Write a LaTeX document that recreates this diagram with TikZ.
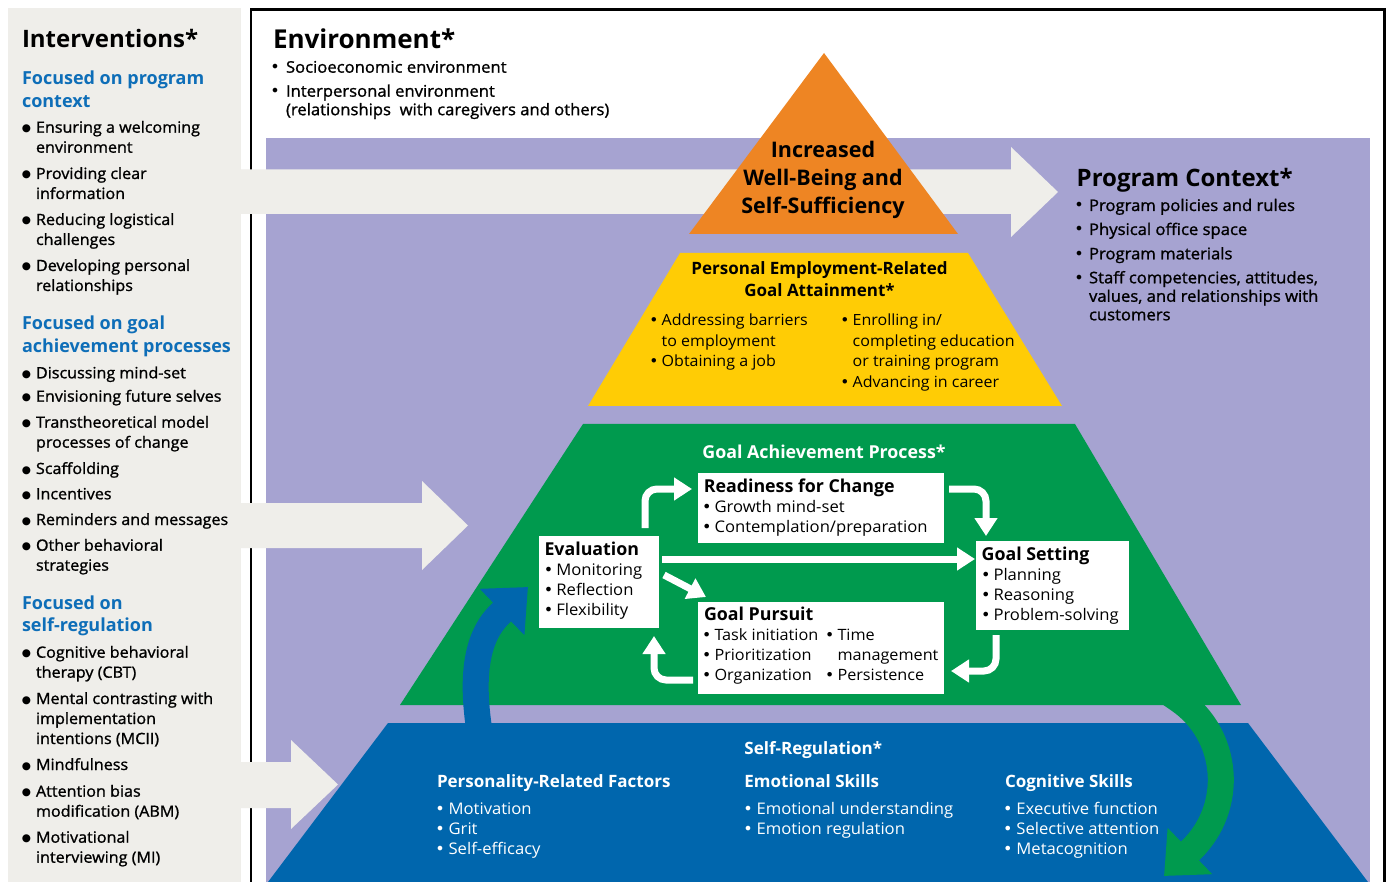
\documentclass[tikz,border=0pt]{standalone}
\usepackage{fontspec}
\setmainfont{Open Sans}
\newfontfamily\medfont[FakeBold=1.2,FakeStretch=1.04]{Open Sans}
\newfontfamily\regfont[FakeStretch=1.04]{Open Sans}
\newfontfamily\bulfont{DejaVu Sans}
\usetikzlibrary{arrows.meta}
\definecolor{panelgray}{HTML}{EFEEEA}
\definecolor{lilac}{HTML}{A6A3D1}
\definecolor{porange}{HTML}{EE8523}
\definecolor{pyellow}{HTML}{FFCC05}
\definecolor{pgreen}{HTML}{009A4E}
\definecolor{pblue}{HTML}{0066AD}
\definecolor{headblue}{HTML}{0E6EB8}
\newcommand{\bigbul}{\llap{\makebox[19pt][c]{\raisebox{1pt}{\bulfont\fontsize{10.5}{10.5}\selectfont ●}}}}
% bullet centred #1 before the text
\newcommand{\smbul}[1]{\llap{\makebox[#1][c]{{\bulfont •}}}}
\tikzset{
  base/.style={inner sep=0pt, outer sep=0pt, anchor=base west, align=left},
  bigtitle/.style={base, font=\fontsize{24}{28}\selectfont\bfseries},
  subhead/.style={base, text=headblue, font=\fontsize{18}{22.3}\selectfont\bfseries},
  lbody/.style={base, font=\fontsize{15.5}{20}\selectfont\medfont},
  pbody/.style={base, font=\fontsize{16}{18.5}\selectfont\medfont},
  body/.style={base, font=\fontsize{16}{20.4}\selectfont\regfont},
  bhead/.style={base, font=\fontsize{17}{21.7}\selectfont\bfseries},
  boxhead/.style={base, font=\fontsize{17.8}{21.7}\selectfont\bfseries},
  wbox/.style={fill=white, draw=none, inner sep=0pt, outer sep=0pt},
  warrow/.style={draw=white, line width=7pt, rounded corners=12pt,
    -{Triangle[width=22pt,length=18pt]}},
  bigarrow/.style={line width=26pt, -{Triangle[width=62pt,length=36pt]}}
}
\begin{document}
\begin{tikzpicture}[x=1pt,y=-1pt]
\useasboundingbox (0,0) rectangle (1390,882);
\fill[white] (0,0) rectangle (1390,882);
% interventions panel
\fill[panelgray] (8,8) rectangle (241,882);
% environment border
\draw[line width=2.5pt] (251,890) -- (251,9.5) -- (1384.5,9.5) -- (1384.5,890);
% program context area
\fill[lilac] (266,138) rectangle (1370,882);
% intervention arrows
\fill[panelgray] (241,169.5) -- (1011,169.5) -- (1011,147) -- (1058,192) -- (1011,237) -- (1011,214) -- (241,214) -- cycle;
\fill[panelgray] (241,503) -- (422,503) -- (422,481) -- (468,525.5) -- (422,570) -- (422,548) -- (241,548) -- cycle;
\fill[panelgray] (241,762) -- (291,762) -- (291,740) -- (338,784.5) -- (291,829) -- (291,808) -- (241,808) -- cycle;
% pyramid
\fill[porange] (824,53) -- (958,234) -- (689,234) -- cycle;
\fill[pyellow] (680,253) -- (968,253) -- (1062,406) -- (588,406) -- cycle;
\fill[pgreen] (583,424) -- (1075,424) -- (1241,705) -- (400,705) -- cycle;
\fill[pblue] (388,723) -- (1248,723) -- (1368,882) -- (268,882) -- cycle;
% curved arrows
\draw[bigarrow, draw=pblue] (481,748) -- (480,735) .. controls (473,690.5) and (471.2,641.1) .. (500.5,613.5) -- (528,587);
\draw[bigarrow, draw=pgreen] (1162.5,688.6) -- (1179,700) .. controls (1229.5,734.9) and (1235.1,807.3) .. (1191,850) -- (1164,876);
% boxes
\node[wbox, minimum width=246pt, minimum height=70pt] (ready) at (821,508) {};
\node[wbox, minimum width=120pt, minimum height=92pt] (eval) at (599,582) {};
\node[wbox, minimum width=153pt, minimum height=89pt] (goal) at (1052.5,585.5) {};
\node[wbox, minimum width=246pt, minimum height=92pt] (pursuit) at (821,648) {};
% white arrows
\draw[warrow] ([xshift=106pt,yshift=8pt]eval.north west) |- ([xshift=-6pt,yshift=-16pt]ready.north west);
\draw[warrow] ([xshift=5pt,yshift=-16pt]ready.north east) -| ([xshift=10pt,yshift=5pt]goal.north west);
\draw[warrow, rounded corners=0pt] ([xshift=3pt,yshift=-23pt]eval.north east) -- ([xshift=-1pt,yshift=-18pt]goal.north west);
\draw[warrow, rounded corners=0pt] ([xshift=5pt,yshift=-39pt]eval.north east) -- ([xshift=8pt,yshift=5pt]pursuit.north west);
\draw[warrow] ([xshift=20pt,yshift=-5pt]goal.south west) |- ([xshift=7pt,yshift=23pt]pursuit.south east);
\draw[warrow] ([xshift=-5pt,yshift=14pt]pursuit.south west) -| ([xshift=115pt,yshift=-8pt]eval.south west);
% ---- interventions text (multi-line nodes are placed at their last baseline)
\node[bigtitle] (t-int) at (22,48) {Interventions*};
\node[subhead] (h-prog) at (22,107.3) {Focused on program\\context};
\node[lbody] (i1) at (36,152.7) {\bigbul Ensuring a welcoming\\environment};
\node[lbody] (i2) at (36,199) {\bigbul Providing clear\\information};
\node[lbody] (i3) at (36,245) {\bigbul Reducing logistical\\challenges};
\node[lbody] (i4) at (36,291) {\bigbul Developing personal\\relationships};
\node[subhead] (h-goal) at (22,352.3) {Focused on goal\\achievement processes};
\node[lbody] (i5) at (36,378.3) {\bigbul Discussing mind-set};
\node[lbody] (i6) at (36,401.7) {\bigbul Envisioning future selves};
\node[lbody] (i7) at (36,447.7) {\bigbul Transtheoretical model\\processes of change};
\node[lbody] (i8) at (36,474) {\bigbul Scaffolding};
\node[lbody] (i9) at (36,499.3) {\bigbul Incentives};
\node[lbody] (i10) at (36,525) {\bigbul Reminders and messages};
\node[lbody] (i11) at (36,570.7) {\bigbul Other behavioral\\strategies};
\node[subhead] (h-self) at (22,631.7) {Focused on\\self-regulation};
\node[lbody] (i12) at (36,677.7) {\bigbul Cognitive behavioral\\therapy (CBT)};
\node[lbody] (i13) at (36,744) {\bigbul Mental contrasting with\\implementation\\intentions (MCII)};
\node[lbody] (i14) at (36,770) {\bigbul Mindfulness};
\node[lbody] (i15) at (36,816.7) {\bigbul Attention bias\\modification (ABM)};
\node[lbody] (i16) at (36,862.7) {\bigbul Motivational\\interviewing (MI)};
% ---- environment text
\node[bigtitle, font=\fontsize{26}{30}\selectfont\bfseries] (t-env) at (273,48.3) {Environment*};
\node[pbody] (e1) at (286,72.7) {\smbul{22pt}Socioeconomic environment};
\node[pbody] (e2) at (286,115.2) {\smbul{22pt}Interpersonal environment\\(relationships\ \ with caregivers and others)};
% ---- program context text
\node[bigtitle] (t-pc) at (1076.7,186.7) {Program Context*};
\node[pbody] (p1) at (1089,211) {\smbul{20pt}Program policies and rules};
\node[pbody] (p2) at (1089,235) {\smbul{20pt}Physical office space};
\node[pbody] (p3) at (1089,259.3) {\smbul{20pt}Program materials};
\node[pbody] (p4) at (1089,320.3) {\smbul{20pt}Staff competencies, attitudes,\\values, and relationships with\\customers};
% ---- orange
\node[base, anchor=base, align=center, font=\fontsize{21.5}{28.1}\selectfont\bfseries] (wb) at (823,213.5) {Increased\\Well-Being and\\Self-Sufficiency};
% ---- yellow
\node[bhead, anchor=base, align=center] (pe) at (819.5,296.7) {Personal Employment-Related\\Goal Attainment*};
\node[body, font=\fontsize{15.4}{20.4}\selectfont\regfont] (y1) at (661.7,366.8) {\smbul{15.5pt}Addressing barriers\\to employment\\\smbul{15.5pt}Obtaining a job};
\node[body, font=\fontsize{15.4}{20.4}\selectfont\regfont] (y2) at (852.7,387.2) {\smbul{15.5pt}Enrolling in/\\completing education\\or training program\\\smbul{15.5pt}Advancing in career};
% ---- green
\node[boxhead, anchor=base, align=center, text=white] (gap) at (824,458) {Goal Achievement Process*};
\node[boxhead] (r-h) at (703.8,492.3) {Readiness for Change};
\node[body, font=\fontsize{16}{20}\selectfont\regfont] (r-b) at (714.5,532.7) {\smbul{15.5pt}Growth mind-set\\\smbul{15.5pt}Contemplation/preparation};
\node[boxhead] (e-h) at (544.5,555) {Evaluation};
\node[body, font=\fontsize{16}{20.3}\selectfont\regfont] (e-b) at (556.4,615.6) {\smbul{15.5pt}Monitoring\\\smbul{15.5pt}Reflection\\\smbul{15.5pt}Flexibility};
\node[boxhead] (g-h) at (981.7,560) {Goal Setting};
\node[body, font=\fontsize{16}{20}\selectfont\regfont] (g-b) at (993.5,620.7) {\smbul{15.5pt}Planning\\\smbul{15.5pt}Reasoning\\\smbul{15.5pt}Problem-solving};
\node[boxhead] (gp-h) at (704,620.7) {Goal Pursuit};
\node[body, font=\fontsize{15.6}{20}\selectfont\regfont] (gp-b1) at (714.5,680.7) {\smbul{15.5pt}Task initiation\\\smbul{15.5pt}Prioritization\\\smbul{15.5pt}Organization};
\node[body, font=\fontsize{15.6}{20}\selectfont\regfont] (gp-b2) at (837.5,680.7) {\smbul{15.5pt}Time\\management\\\smbul{15.5pt}Persistence};
% ---- blue
\node[bhead, text=white] (sr) at (744.4,754.3) {Self-Regulation*};
\node[bhead, text=white] (pf-h) at (437,787) {Personality-Related Factors};
\node[body, text=white, font=\fontsize{16}{20.2}\selectfont\regfont] (pf-b) at (448.6,854.4) {\smbul{17pt}Motivation\\\smbul{17pt}Grit\\\smbul{17pt}Self-efficacy};
\node[bhead, text=white] (es-h) at (744.4,787) {Emotional Skills};
\node[body, text=white, font=\fontsize{16}{20.2}\selectfont\regfont] (es-b) at (756.6,834.2) {\smbul{17pt}Emotional understanding\\\smbul{17pt}Emotion regulation};
\node[bhead, text=white] (cs-h) at (1005,787) {Cognitive Skills};
\node[body, text=white, font=\fontsize{16}{20.2}\selectfont\regfont] (cs-b) at (1016.4,854.4) {\smbul{17pt}Executive function\\\smbul{17pt}Selective attention\\\smbul{17pt}Metacognition};
\end{tikzpicture}
\end{document}
